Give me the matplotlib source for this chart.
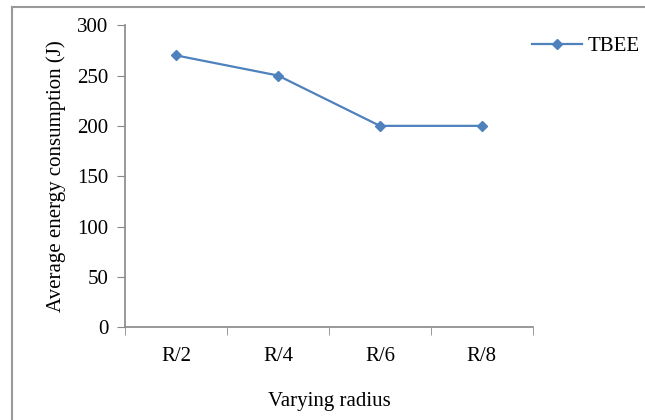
import matplotlib.pyplot as plt
from matplotlib.lines import Line2D

categories = ['R/2', 'R/4', 'R/6', 'R/8']
tbee = [270, 250, 200, 200]

plt.rcParams['font.family'] = ['Liberation Serif', 'DejaVu Serif']

fig = plt.figure(figsize=(6.45, 4.2), dpi=100)
ax = fig.add_axes([0.194, 0.221, 0.632, 0.719])

x = range(len(categories))
ax.plot(x, tbee, color='#4f81bd', marker='D', markersize=5.5, linewidth=1.6, label='TBEE')

ax.set_xlim(-0.5, len(categories) - 0.5)
ax.set_ylim(0, 300)
ax.set_yticks(range(0, 301, 50))
ax.set_xticks(x)
ax.set_xticklabels(categories)
# category boundary ticks like Excel
ax.set_xticks([i - 0.5 for i in range(len(categories) + 1)], minor=True)
ax.tick_params(axis='x', which='major', length=0, pad=14, labelsize=15)
ax.tick_params(axis='x', which='minor', length=6, color='#888888', direction='out')
ax.tick_params(axis='y', length=6, color='#888888', labelsize=15, pad=6)

for side in ['top', 'right']:
    ax.spines[side].set_visible(False)
for side in ['left', 'bottom']:
    ax.spines[side].set_color('#888888')
    ax.spines[side].set_linewidth(1.2)

ax.set_ylabel('Average energy consumption (J)', fontsize=15, labelpad=8)
ax.set_xlabel('Varying radius', fontsize=15, labelpad=19)

leg_x = (524 / 645 - 0.194) / 0.632
ax.legend(loc='upper left', bbox_to_anchor=(leg_x, 0.99),
          frameon=False, fontsize=15, handlelength=2.4, handletextpad=0.25, borderaxespad=0)

# outer chart border (left and top only visible)
fig.add_artist(Line2D([12 / 645, 12 / 645], [0, 1 - 7 / 420], color='#999999', linewidth=1.5))
fig.add_artist(Line2D([12 / 645, 1], [1 - 7 / 420, 1 - 7 / 420], color='#999999', linewidth=1.5))

plt.savefig('out.png', dpi=100)
